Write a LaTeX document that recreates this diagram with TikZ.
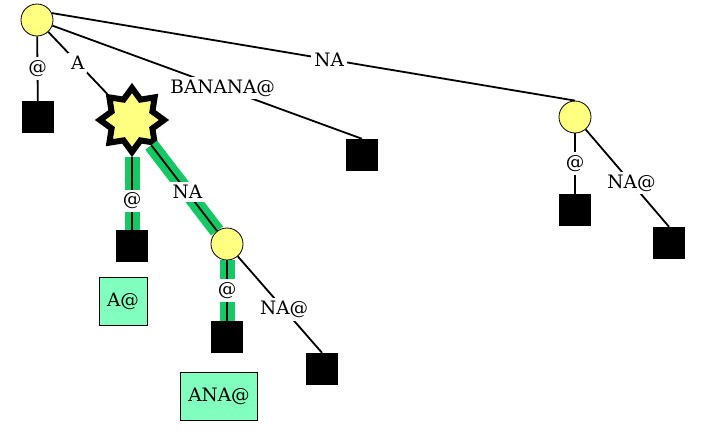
\documentclass[tikz,border=0pt]{standalone}
\usepackage{fontspec}
\setmainfont{DejaVu Serif}
\usepackage{tikz}
\usetikzlibrary{shapes.geometric}
\definecolor{nodeyellow}{RGB}{255,255,128}
\definecolor{pathgreen}{RGB}{20,200,100}
\definecolor{matchgreen}{RGB}{128,255,190}

\begin{document}
\begin{tikzpicture}[x=1pt, y=-1pt,
	inner/.style={circle, draw, line width=0.8pt, fill=nodeyellow, minimum size=32pt, inner sep=0pt},
	leaf/.style={rectangle, fill=black, minimum size=32pt, inner sep=0pt},
	hit/.style={star, star points=8, star point ratio=1.45, draw, line width=6pt, fill=nodeyellow, minimum size=64pt, inner sep=0pt},
	match/.style={rectangle, draw, line width=0.8pt, fill=matchgreen, minimum height=48pt, inner xsep=8pt, font=\fontsize{18.5}{22}\selectfont},
	lbl/.style={fill=white, inner sep=3pt, font=\fontsize{18.5}{22}\selectfont},
	branch/.style={line width=1.8pt},
	onpath/.style={preaction={draw=pathgreen, line width=15pt}}]
	
	\useasboundingbox (0,0) rectangle (723,436);
	
	% ----- internal nodes and the matched node
	\node[inner] (root) at (37,20) {};
	\node[hit] (star) at (132,120) {};
	\node[inner] (mid) at (227,244) {};
	\node[inner] (right) at (575,117) {};
	
	% ----- leaves
	\node[leaf] (l1) at (38,117) {};
	\node[leaf] (l2) at (362,155) {};
	\node[leaf] (l3) at (132,246) {};
	\node[leaf] (l4) at (227,337) {};
	\node[leaf] (l5) at (322,369) {};
	\node[leaf] (l6) at (575,210) {};
	\node[leaf] (l7) at (669,243) {};
	
	% ----- matches found
	\node[match] (m1) at (123,301) {A@};
	\node[match] (m2) at (219,396) {ANA@};
	
	% ----- edges from the root
	\draw[branch] (root) -- node[lbl] {@} (l1);
	\draw[branch] (root) -- node[lbl] {A} (star);
	\draw[branch] (root) -- node[lbl, pos=0.55] {BANANA@} (l2.north);
	\draw[branch] (root.25) -- node[lbl, pos=0.53] {NA} (right.north);
	
	% ----- edges below the matched node (search path highlighted)
	\draw[branch, onpath] (star) -- node[lbl, pos=0.6] {@} (l3);
	\draw[branch, onpath] (star) -- node[lbl, pos=0.55] {NA} (mid);
	\draw[branch, onpath] (mid) -- node[lbl] {@} (l4);
	\draw[branch] (mid) -- node[lbl, pos=0.55] {NA@} (l5.north);
	
	% ----- edges of the right subtree
	\draw[branch] (right) -- node[lbl] {@} (l6);
	\draw[branch] (right) -- node[lbl, pos=0.55] {NA@} (l7.north);
	
\end{tikzpicture}
\end{document}
